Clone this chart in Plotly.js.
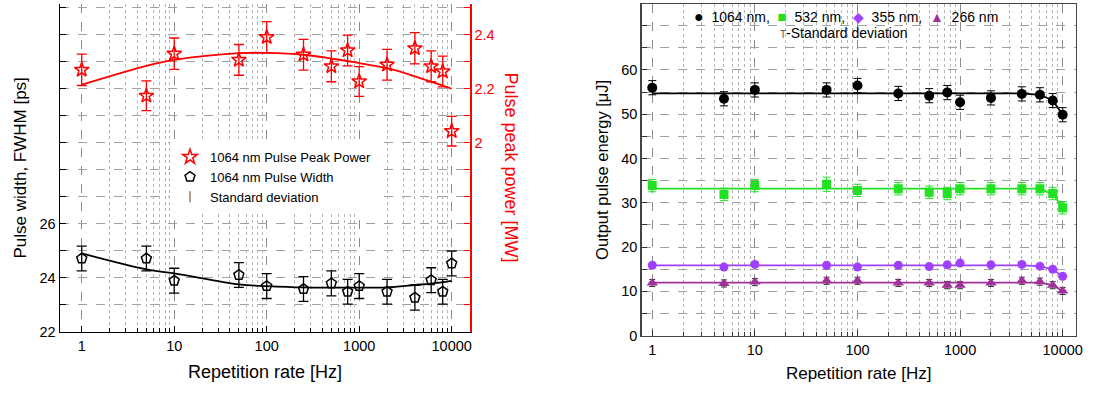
<!DOCTYPE html>
<html><head><meta charset="utf-8">
<script src="https://cdn.plot.ly/plotly-3.0.1.min.js"></script>
<style>html,body{margin:0;padding:0;background:#fff}#chart{width:1100px;height:393px}</style>
</head><body><div id="chart"></div><script>
// ---- data ----
const rate = [1,5,10,50,100,250,500,750,1000,2000,4000,6000,8000,10000];

// left panel
const peakPower    = [2.27,2.174,2.33,2.307,2.391,2.326,2.283,2.342,2.227,2.289,2.350,2.283,2.264,2.043];
const peakPowerErr = [0.058,0.055,0.058,0.057,0.058,0.057,0.057,0.057,0.055,0.057,0.058,0.057,0.057,0.055];
const pulseWidth    = [24.71,24.71,23.89,24.10,23.69,23.58,23.79,23.48,23.69,23.48,23.26,23.91,23.48,24.53];
const pulseWidthErr = [0.46,0.46,0.46,0.46,0.46,0.46,0.46,0.46,0.46,0.46,0.46,0.46,0.46,0.46];
const fitRatePower = [1,5,10,50,100,250,1000,2000,4000,10000];
const fitPeakPower = [2.215,2.285,2.307,2.332,2.333,2.326,2.295,2.276,2.246,2.2];
const fitRateWidth = [1,5,10,50,100,250,1000,2000,4000,6000,10000];
const fitPulseWidth = [24.9,24.31,24.16,23.75,23.69,23.64,23.63,23.64,23.73,23.78,23.88];

// right panel
const e1064 = [56.0,53.5,55.5,55.5,56.5,54.7,54.2,54.9,52.7,53.7,54.6,54.4,53.1,49.9];
const e532  = [33.9,31.9,33.9,34.2,32.8,33.2,32.4,32.1,33.2,33.2,33.2,33.2,32.1,28.9];
const e355  = [15.9,15.5,16.1,15.9,15.5,15.9,15.6,16.0,16.4,16.0,16.1,15.7,15.0,13.4];
const e266  = [11.9,11.8,12.1,12.4,12.4,11.9,11.9,11.4,11.4,11.9,12.4,12.2,11.4,10.1];
const err1064 = [1.6,1.6,1.6,1.6,1.6,1.6,1.6,1.6,1.6,1.6,1.6,1.6,1.6,1.6];
const err532  = [1.4,1.4,1.4,1.6,1.4,1.4,1.4,1.4,1.4,1.4,1.4,1.4,1.4,1.4];
const err355  = [0.6,0.6,0.6,0.6,0.6,0.6,0.6,0.6,0.6,0.6,0.6,0.6,0.6,0.6];
const err266  = [0.8,0.8,0.8,0.8,0.8,0.8,0.8,0.8,0.8,0.8,0.8,0.8,0.8,0.8];
const fitRateE = [1,4000,6000,8000,10000];
const fit1064 = [54.7,54.7,54.4,53.1,49.9];
const fit532  = [33.2,33.2,33.2,31.9,29.1];
const fit355  = [15.9,15.9,15.7,15.0,13.4];
const fit266  = [12.0,12.0,12.0,11.4,10.1];

// ticks
const decadeTicks = [1,10,100,1000,10000];
const decadeLabels = ['1','10','100','1000','10000'];
const minorMult = [2,3,4,5,6,7,8,9];
const minorTicks = [];
[1,10,100,1000].forEach(d => minorMult.forEach(m => minorTicks.push(d*m)));
const widthTicks = [22,23,24,25,26,27,28,29,30,31,32,33,34];
const widthLabels = ['22','','24','','26','','','','','','','',''];
const powerTicks = [1.3,1.4,1.5,1.6,1.7,1.8,1.9,2.0,2.1,2.2,2.3,2.4,2.5];
const powerLabels = ['','','','','','','','2','','2.2','','2.4',''];
const energyTicks = [0,5,10,15,20,25,30,35,40,45,50,55,60,65,70];
const energyLabels = ['0','','10','','20','','30','','40','','50','','60','',''];

// ---- styling ----
const FONT = 'Liberation Sans, Arial, sans-serif';
const RED = '#ff0000';
const GREEN = '#22e022';
const VIOLET = '#a040ff';
const PLUM = '#a0309a';
const W = 1100, H = 393;
const px = v => v / W, py = v => 1 - v / H;

const traces = [
  // left panel fits
  {x: fitRatePower, y: fitPeakPower, xaxis:'x', yaxis:'y2', mode:'lines', line:{color:RED, width:1.8, shape:'spline'}, showlegend:false, hoverinfo:'skip'},
  {x: fitRateWidth, y: fitPulseWidth, xaxis:'x', yaxis:'y', mode:'lines', line:{color:'#000', width:1.8, shape:'spline'}, showlegend:false, hoverinfo:'skip'},
  // left panel data
  {x: rate, y: peakPower, xaxis:'x', yaxis:'y2', mode:'markers', name:'1064 nm Pulse Peak Power',
   marker:{symbol:'star-open', size:11, color:RED, line:{width:1.5, color:RED}},
   error_y:{type:'data', array:peakPowerErr, color:RED, thickness:1.3, width:5}, legend:'legend'},
  {x: rate, y: pulseWidth, xaxis:'x', yaxis:'y', mode:'markers', name:'1064 nm Pulse Width',
   marker:{symbol:'pentagon-open', size:10.5, color:'#000', line:{width:1.5, color:'#000'}},
   error_y:{type:'data', array:pulseWidthErr, color:'#000', thickness:1.3, width:5}, legend:'legend'},
  {x:[null], y:[null], xaxis:'x', yaxis:'y', mode:'markers', name:'Standard deviation',
   marker:{symbol:'line-ns-open', size:8, color:'#a08060', line:{width:1.5, color:'#a08060'}}, legend:'legend'},
  // minor grid helpers
  {x:[null], y:[null], xaxis:'x3', yaxis:'y', mode:'markers', showlegend:false, hoverinfo:'skip'},
  {x:[null], y:[null], xaxis:'x4', yaxis:'y3', mode:'markers', showlegend:false, hoverinfo:'skip'},
  // right panel fits
  {x: fitRateE, y: fit1064, xaxis:'x2', yaxis:'y3', mode:'lines', line:{color:'#000', width:1.8}, showlegend:false, hoverinfo:'skip'},
  {x: fitRateE, y: fit532, xaxis:'x2', yaxis:'y3', mode:'lines', line:{color:GREEN, width:1.8}, showlegend:false, hoverinfo:'skip'},
  {x: fitRateE, y: fit355, xaxis:'x2', yaxis:'y3', mode:'lines', line:{color:VIOLET, width:1.8}, showlegend:false, hoverinfo:'skip'},
  {x: fitRateE, y: fit266, xaxis:'x2', yaxis:'y3', mode:'lines', line:{color:PLUM, width:1.8}, showlegend:false, hoverinfo:'skip'},
  // right panel data
  {x: rate, y: e1064, xaxis:'x2', yaxis:'y3', mode:'markers', showlegend:false,
   marker:{symbol:'circle', size:10, color:'#000'},
   error_y:{type:'data', array:err1064, color:'#000', thickness:1, width:4}},
  {x: rate, y: e532, xaxis:'x2', yaxis:'y3', mode:'markers', showlegend:false,
   marker:{symbol:'square', size:9, color:GREEN},
   error_y:{type:'data', array:err532, color:GREEN, thickness:1, width:4}},
  {x: rate, y: e355, xaxis:'x2', yaxis:'y3', mode:'markers', showlegend:false,
   marker:{symbol:'circle', size:9, color:VIOLET},
   error_y:{type:'data', array:err355, color:'#303030', thickness:1, width:3}},
  {x: rate, y: e266, xaxis:'x2', yaxis:'y3', mode:'markers', showlegend:false,
   marker:{symbol:'triangle-up', size:10, color:PLUM},
   error_y:{type:'data', array:err266, color:'#303030', thickness:1, width:3}}
];

const tickFont = {family:FONT, size:14.5, color:'#000'};
const majorGridX = {showgrid:true, gridcolor:'#8c8c8c', griddash:'dash', gridwidth:1};

const layout = {
  width: W, height: H,
  margin:{l:0, r:0, t:0, b:0},
  paper_bgcolor:'#fff', plot_bgcolor:'rgba(0,0,0,0)',
  font:{family:FONT, color:'#000'},
  showlegend:true,
  legend:{x:px(170), y:py(142), xanchor:'left', yanchor:'top', bgcolor:'#fff',
          font:{family:FONT, size:13, color:'#000'}, itemsizing:'trace', tracegroupgap:0},
  xaxis:Object.assign({domain:[px(60), px(470)], anchor:'y', type:'log', range:[-0.235, 4.198],
    tickvals:decadeTicks, ticktext:decadeLabels, ticks:'inside', ticklen:6, tickcolor:'#000',
    tickfont:tickFont, showline:true, linecolor:'#000', linewidth:1.5, zeroline:false,
    title:{text:'Repetition rate [Hz]', font:{family:FONT, size:18}, standoff:13}}, majorGridX),
  xaxis3:{overlaying:'x', anchor:'y', type:'log', range:[-0.235, 4.198], tickvals:minorTicks,
    showticklabels:false, ticks:'inside', ticklen:4, tickcolor:'#000', showgrid:true,
    gridcolor:'#b4b4b4', griddash:'dot', gridwidth:1, showline:false, zeroline:false},
  yaxis:{domain:[1-331.7/H, py(4)], anchor:'x', range:[22, 34.14], tickvals:widthTicks, ticktext:widthLabels,
    ticks:'inside', ticklen:6, tickcolor:'#000', tickfont:tickFont, showline:true, linecolor:'#000',
    linewidth:1.5, showgrid:true, gridcolor:'#a0a0a0', griddash:'dash', zeroline:false,
    title:{text:'Pulse width, FWHM [ps]', font:{family:FONT, size:17}, standoff:8}},
  yaxis2:{overlaying:'y', side:'right', anchor:'x', range:[1.3, 2.514], tickvals:powerTicks, ticktext:powerLabels,
    ticks:'inside', ticklen:6, tickcolor:RED, tickfont:{family:FONT, size:14.5, color:RED},
    showline:true, linecolor:RED, linewidth:1.5, showgrid:false, zeroline:false},
  xaxis2:Object.assign({domain:[px(641.7), px(1075.7)], anchor:'y3', type:'log', range:[-0.103, 4.127],
    tickvals:decadeTicks, ticktext:decadeLabels, ticks:'inside', ticklen:6, tickcolor:'#333',
    tickfont:tickFont, showline:true, linecolor:'#444', linewidth:1.5, mirror:true, zeroline:false,
    title:{text:'Repetition rate [Hz]', font:{family:FONT, size:17}, standoff:10}}, majorGridX),
  xaxis4:{overlaying:'x2', anchor:'y3', type:'log', range:[-0.103, 4.127], tickvals:minorTicks,
    showticklabels:false, ticks:'inside', ticklen:4, tickcolor:'#333', showgrid:true,
    gridcolor:'#b4b4b4', griddash:'dot', gridwidth:1, showline:false, zeroline:false},
  yaxis3:{domain:[1-335.7/H, py(4)], anchor:'x2', range:[0, 74.9], tickvals:energyTicks, ticktext:energyLabels,
    ticks:'inside', ticklen:5, tickcolor:'#333', tickfont:tickFont, showline:true, linecolor:'#444',
    linewidth:1.5, mirror:true, showgrid:true, gridcolor:'#a0a0a0', griddash:'dash', zeroline:false,
    title:{text:'Output pulse energy [μJ]', font:{family:FONT, size:16.5}, standoff:8}},
  annotations:[
    {xref:'paper', yref:'paper', x:px(511), y:py(167.5), text:'Pulse peak power [MW]', textangle:90,
     showarrow:false, font:{family:FONT, size:18, color:RED}, xanchor:'center', yanchor:'middle'},
    {xref:'paper', yref:'paper', x:px(846), y:py(16), showarrow:false, xanchor:'center', yanchor:'middle',
     font:{family:FONT, size:14, color:'#000'},
     text:'<span style="color:#000;font-size:16px">●</span>  1064 nm,  <span style="color:'+GREEN+';font-size:15px">■</span>  532 nm,  <span style="color:'+VIOLET+'">◆</span>  355 nm,  <span style="color:'+PLUM+'">▲</span>  266 nm'},
    {xref:'paper', yref:'paper', x:px(844), y:py(33), showarrow:false, xanchor:'center', yanchor:'middle',
     font:{family:FONT, size:14, color:'#000'},
     text:'<span style="font-size:10px;color:#555">T</span>-Standard deviation'}
  ]
};

Plotly.newPlot('chart', traces, layout, {displayModeBar:false, staticPlot:true});
</script></body></html>
